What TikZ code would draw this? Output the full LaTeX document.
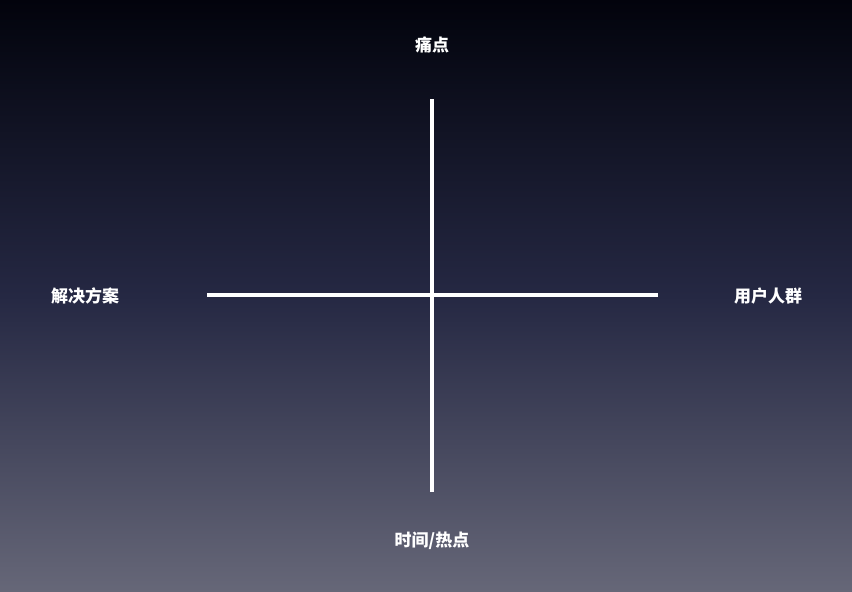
\documentclass[tikz,border=0pt]{standalone}
\usepackage{fontspec}
\newfontfamily\cjk{Noto Sans CJK SC}
\usepackage{tikz}
\usetikzlibrary{positioning}

\definecolor{bgtop}{HTML}{02030C}
\definecolor{bgmid}{HTML}{252843}
\definecolor{bgbottom}{HTML}{666778}

\begin{document}
\begin{tikzpicture}[
        x=1pt, y=-1pt,
        axis/.style={draw=white, line width=3.5pt},
        label/.style={text=white, font=\cjk\bfseries\fontsize{17}{19}\selectfont, inner sep=0pt}
    ]
    
    % Background
    \shade[top color=bgtop, bottom color=bgbottom, middle color=bgmid] (0,0) rectangle (852,592);
    \useasboundingbox (0,0) rectangle (852,592);
    
    % Axis ends
    \coordinate (axis_top) at (432,99);
    \coordinate (axis_bottom) at (432,492);
    \coordinate (axis_left) at (207,295);
    \coordinate (axis_right) at (658,295);
    
    % Axes
    \draw[axis] (axis_left) -- (axis_right);
    \draw[axis] (axis_top) -- (axis_bottom);
    
    % Labels
    \node[label] (pain) at (432,45) {痛点};
    \node[label] (solution) at (85,296) {解决方案};
    \node[label] (users) at (768,296) {用户人群};
    \node[label] (timing) at (432,541) {时间/热点};
    
\end{tikzpicture}
\end{document}
